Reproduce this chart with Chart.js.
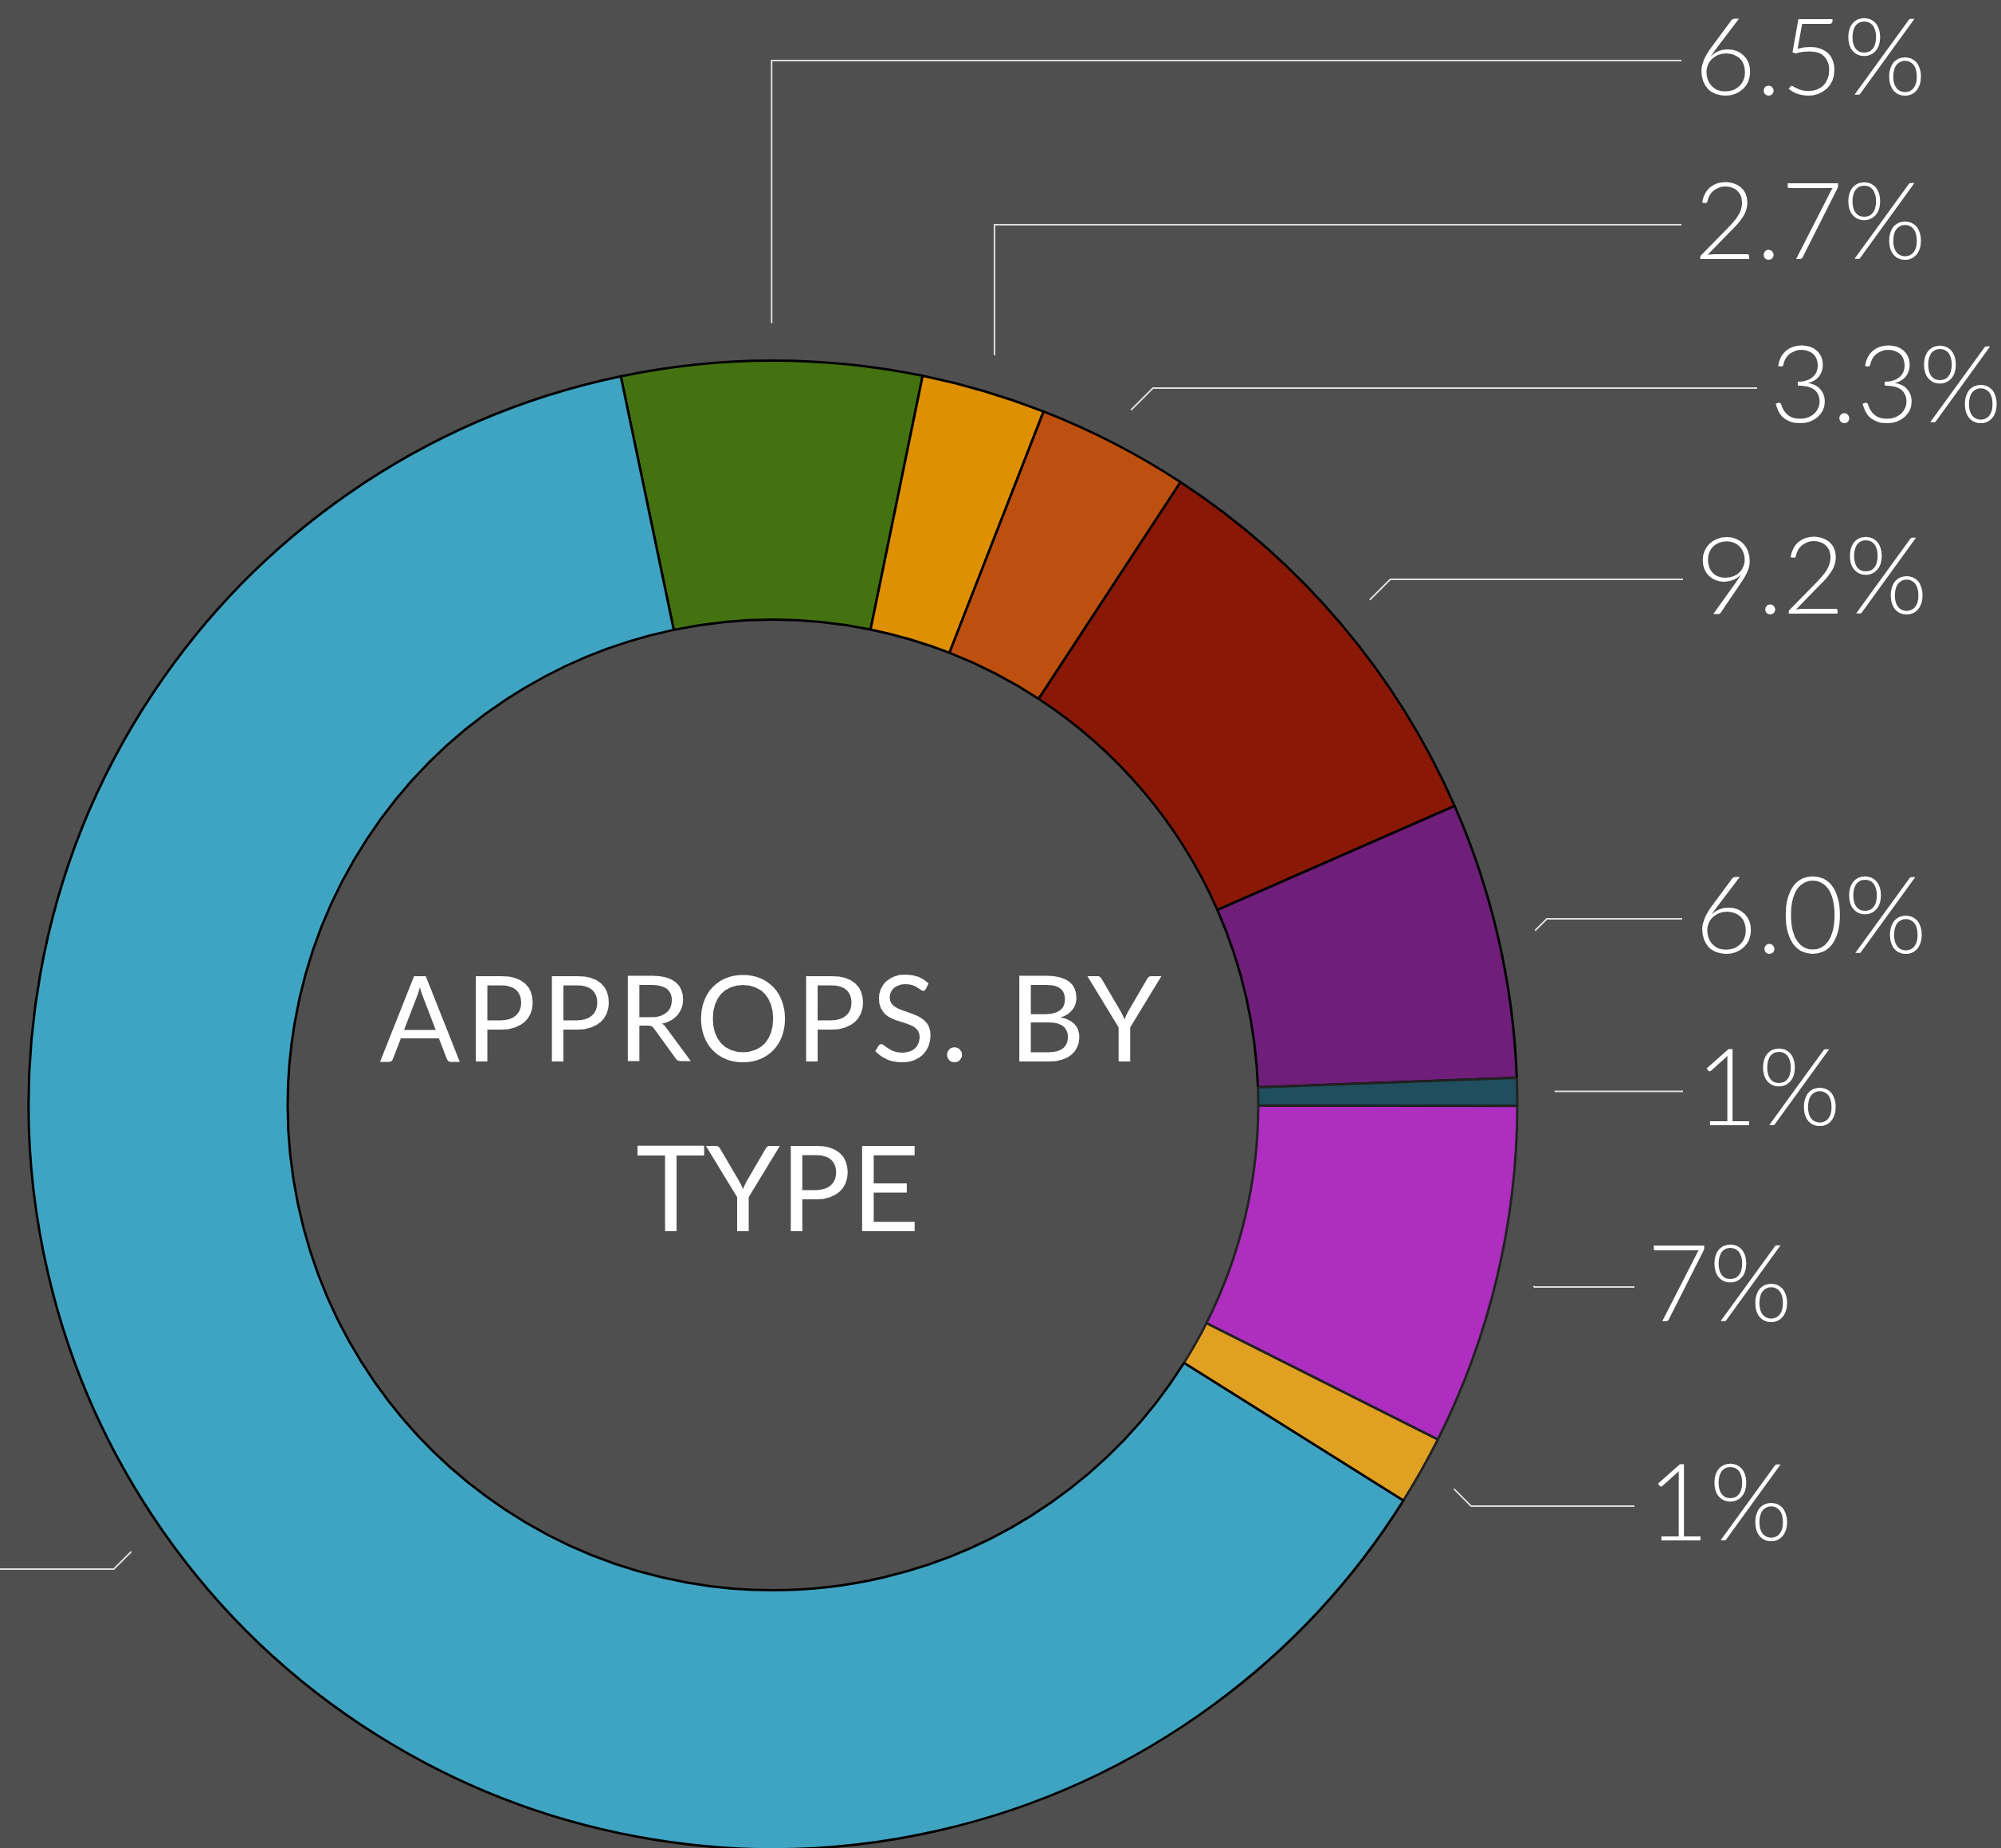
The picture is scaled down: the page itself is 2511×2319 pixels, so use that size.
<!DOCTYPE html>
<html>
<head>
<meta charset="utf-8">
<script src="https://cdn.jsdelivr.net/npm/chart.js@4/dist/chart.umd.min.js"></script>
<style>
  html, body { margin: 0; padding: 0; background: #4f4f4f; overflow: hidden; }
  canvas { display: block; }
</style>
</head>
<body>
<canvas id="donut" width="2511" height="2330"></canvas>
<script>
// data
const categories = ['Type 1', 'Type 2', 'Type 3', 'Type 4', 'Type 5', 'Type 6', 'Type 7', 'Type 8', 'Type 9'];
const shares = [6.5, 2.7, 3.3, 9.2, 6.0, 0.6, 7.4, 1.5, 62.8];
const shareLabels = ['6.5%', '2.7%', '3.3%', '9.2%', '6.0%', '1%', '7%', '1%', null];
const colors = ['#447211', '#de9000', '#bd500f', '#8a1807', '#6f1f7a', '#1f4f5e', '#ae2ec0', '#e0a022', '#3fa4c2'];
const titleLines = ['APPROPS. BY', 'TYPE'];

// label layout: where the leader line ends up (y), where it stops (x), and how it bends
const labelLineY = [76, 282, 487, 727, 1153, null, 1615, 1890, 1969];
const labelLineEndX = [2110, 2110, 2205, 2112, 2111, 2112, 2051, 2051, -20];
const leaderBend = ['vertical', 'vertical', 'diag', 'diag', 'diag', 'flat', 'diag', 'diag', 'diag'];

const leaderPlugin = {
  id: 'leaders',
  afterDraw(chart) {
    const ctx = chart.ctx;
    const arcs = chart.getDatasetMeta(0).data;
    ctx.save();
    ctx.strokeStyle = '#dedede';
    ctx.lineWidth = 2;
    ctx.fillStyle = '#ffffff';
    ctx.font = '300 134px Lato, "Open Sans", sans-serif';
    ctx.textAlign = 'left';
    ctx.textBaseline = 'alphabetic';
    arcs.forEach((arc, i) => {
      const p = arc.getProps(['x', 'y', 'startAngle', 'endAngle', 'outerRadius'], true);
      const mid = (p.startAngle + p.endAngle) / 2;
      const r = p.outerRadius + 47;
      const ax = p.x + Math.cos(mid) * r;
      const ay = p.y + Math.sin(mid) * r;
      const ly = leaderBend[i] === 'flat' ? ay : labelLineY[i];
      const ex = labelLineEndX[i];
      ctx.beginPath();
      ctx.moveTo(ax, ay);
      if (leaderBend[i] === 'vertical') {
        ctx.lineTo(ax, ly);
      } else if (leaderBend[i] === 'diag') {
        const dy = Math.abs(ly - ay);
        ctx.lineTo(ax + Math.sign(ex - ax) * dy, ly);
      }
      ctx.lineTo(ex, ly);
      ctx.stroke();
      if (shareLabels[i]) {
        ctx.fillText(shareLabels[i], ex + 16, ly + 43);
      }
    });

    // centre title
    const c = arcs[0].getProps(['x', 'y'], true);
    ctx.font = '400 149px Lato, "Open Sans", sans-serif';
    ctx.textAlign = 'center';
    ctx.letterSpacing = '6px';
    ctx.fillText(titleLines[0], c.x, c.y - 55);
    ctx.letterSpacing = '0px';
    ctx.fillText(titleLines[1], c.x + 6, c.y + 158);
    ctx.restore();
  }
};

new Chart(document.getElementById('donut'), {
  type: 'doughnut',
  data: {
    labels: categories,
    datasets: [{
      data: shares,
      backgroundColor: colors,
      borderColor: ['#000000', '#000000', '#000000', '#000000', '#000000', '#222222', '#222222', '#222222', '#000000'],
      borderWidth: 3,
      hoverOffset: 0,
      offset: 0
    }]
  },
  options: {
    responsive: false,
    animation: false,
    events: [],
    rotation: -11.8,
    cutout: '65.2%',
    layout: { padding: { left: 34.5, right: 605.5, top: 451, bottom: 8 } },
    plugins: {
      legend: { display: false },
      tooltip: { enabled: false }
    }
  },
  plugins: [leaderPlugin]
});
</script>
</body>
</html>
